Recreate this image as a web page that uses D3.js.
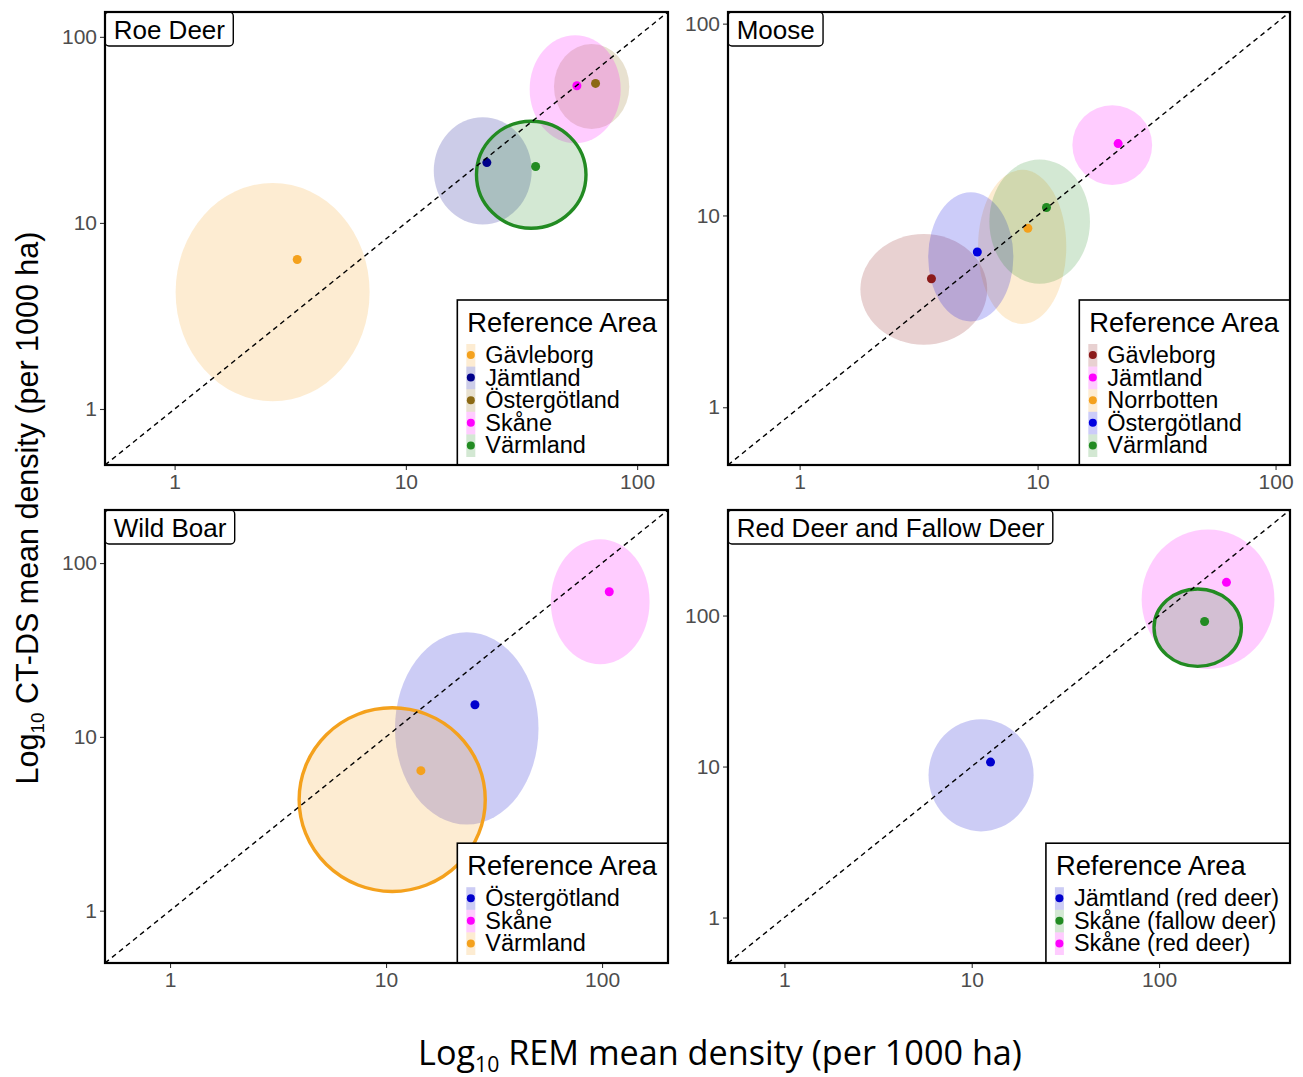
<!DOCTYPE html>
<html><head><meta charset="utf-8">
<script src="https://cdn.jsdelivr.net/npm/d3@7"></script>
<style>body{margin:0;background:#fff}</style>
</head><body>
<svg id="c" width="1303" height="1077" xmlns="http://www.w3.org/2000/svg"></svg>
<script>
// ---------------- DATA ----------------
const panelTitles = ["Roe Deer", "Moose", "Wild Boar", "Red Deer and Fallow Deer"];
const panelMax = [136, 115, 202, 500];      // upper end of both log axes
const tickValues = [1, 10, 100];
const legendTitle = "Reference Area";
const xTitleMain = "Log", xTitleSub = "10", xTitleRest = " REM mean density (per 1000 ha)";
const yTitleMain = "Log", yTitleSub = "10", yTitleRest = " CT-DS mean density (per 1000 ha)";

// Roe Deer
const roeAreas = ["Gävleborg", "Jämtland", "Östergötland", "Skåne", "Värmland"];
const roeRem = [3.39, 22.4, 66.1, 54.9, 36.4];
const roeCtds = [6.36, 21.1, 56.2, 54.6, 20.1];
const roeRemRange = [[1.01, 6.97], [13.2, 35.0], [43.7, 92.5], [34.3, 84.9], [20.2, 60.1]];
const roeCtdsRange = [[1.10, 16.4], [9.8, 37.0], [32.0, 91.4], [26.8, 102], [9.36, 35.2]];
const roeOutlined = ["Värmland"];

// Moose
const mooseAreas = ["Gävleborg", "Jämtland", "Norrbotten", "Östergötland", "Värmland"];
const mooseRem = [3.58, 21.8, 9.10, 5.58, 10.9];
const mooseCtds = [4.68, 23.7, 8.57, 6.45, 11.0];
const mooseRemRange = [[1.80, 6.14], [14.0, 30.3], [5.62, 13.2], [3.47, 7.91], [6.27, 16.6]];
const mooseCtdsRange = [[2.12, 8.0], [14.4, 37.6], [2.72, 17.3], [2.80, 13.2], [4.41, 19.6]];
const mooseOutlined = [];

// Wild Boar
const boarAreas = ["Östergötland", "Skåne", "Värmland"];
const boarRem = [25.8, 108, 14.5];
const boarCtds = [15.3, 68.4, 6.39];
const boarRemRange = [[11.0, 50.8], [57.9, 166], [3.96, 28.8]];
const boarCtdsRange = [[3.13, 40.0], [26.2, 137], [1.29, 14.7]];
const boarOutlined = ["Värmland"];

// Red Deer and Fallow Deer
const redAreas = ["Jämtland (red deer)", "Skåne (fallow deer)", "Skåne (red deer)"];
const redRem = [12.6, 175, 229];
const redCtds = [10.7, 91.3, 166];
const redRemRange = [[5.88, 21.4], [94.0, 275], [80.7, 413]];
const redCtdsRange = [[3.72, 20.6], [46.1, 150], [44.3, 372]];
const redOutlined = ["Skåne (fallow deer)"];

// ---------------- STYLE ----------------
const roeColors = ["#F4A11D", "#00008B", "#8B6914", "#FF00FF", "#228B22"];
const mooseColors = ["#8B1A1A", "#FF00FF", "#F4A11D", "#0000E0", "#228B22"];
const boarColors = ["#0000CD", "#FF00FF", "#F4A11D"];
const redColors = ["#0000CD", "#228B22", "#FF00FF"];
const FONT = "'Liberation Sans', Arial, Helvetica, sans-serif";

const boxes = [
  {l: 105, t: 12, r: 668, b: 465},
  {l: 728, t: 12, r: 1290, b: 465},
  {l: 105, t: 510, r: 668, b: 963},
  {l: 728, t: 510, r: 1290, b: 963}
];

const svg = d3.select("#c");
svg.append("rect").attr("width", 1303).attr("height", 1077).attr("fill", "#fff");

function drawPanel(i, areas, rem, ctds, remR, ctdsR, colors, outlined) {
  const box = boxes[i];
  const x = d3.scaleLog().domain([0.5, panelMax[i]]).range([box.l, box.r]);
  const y = d3.scaleLog().domain([0.5, panelMax[i]]).range([box.b, box.t]);
  const g = svg.append("g");
  const clipId = "clip" + i;
  g.append("clipPath").attr("id", clipId).append("rect")
    .attr("x", box.l).attr("y", box.t).attr("width", box.r - box.l).attr("height", box.b - box.t);
  const plot = g.append("g").attr("clip-path", `url(#${clipId})`);

  const rows = areas.map((a, k) => ({a, rem: rem[k], ctds: ctds[k], rr: remR[k], cr: ctdsR[k], col: colors[k], out: outlined.includes(a)}));
  const drawOrder = rows.filter(d => !d.out).concat(rows.filter(d => d.out));

  // ellipses (outlined ones on top)
  plot.selectAll("ellipse").data(drawOrder).join("ellipse")
    .attr("cx", d => (x(d.rr[0]) + x(d.rr[1])) / 2)
    .attr("cy", d => (y(d.cr[0]) + y(d.cr[1])) / 2)
    .attr("rx", d => Math.abs(x(d.rr[1]) - x(d.rr[0])) / 2)
    .attr("ry", d => Math.abs(y(d.cr[1]) - y(d.cr[0])) / 2)
    .attr("fill", d => d.col).attr("fill-opacity", 0.2)
    .attr("stroke", d => d.out ? d.col : "none")
    .attr("stroke-width", 3.4);

  // points
  plot.selectAll("circle.pt").data(rows).join("circle").attr("class", "pt")
    .attr("cx", d => x(d.rem)).attr("cy", d => y(d.ctds)).attr("r", 4.5)
    .attr("fill", d => d.col);

  // 1:1 line
  plot.append("line")
    .attr("x1", x(0.5)).attr("y1", y(0.5))
    .attr("x2", x(panelMax[i])).attr("y2", y(panelMax[i]))
    .attr("stroke", "#000").attr("stroke-width", 1.4).attr("stroke-dasharray", "5,4");

  // axes
  const ax = g.append("g").attr("transform", `translate(0,${box.b})`)
    .call(d3.axisBottom(x).tickValues(tickValues).tickFormat(d3.format("d")).tickSize(5).tickPadding(4));
  const ay = g.append("g").attr("transform", `translate(${box.l},0)`)
    .call(d3.axisLeft(y).tickValues(tickValues).tickFormat(d3.format("d")).tickSize(5).tickPadding(3));
  [ax, ay].forEach(a => {
    a.select(".domain").remove();
    a.selectAll("line").attr("stroke", "#333").attr("stroke-width", 1.1);
    a.selectAll("text").attr("fill", "#4D4D4D").attr("font-size", 21).attr("font-family", FONT);
  });

  // panel label
  const lab = g.append("g");
  const lt = lab.append("text").attr("x", box.l + 8.7).attr("y", box.t + 26.5)
    .attr("font-size", 26).attr("font-family", FONT).attr("fill", "#000").text(panelTitles[i]);
  const lw = lt.node().getComputedTextLength();
  lab.insert("rect", "text").attr("x", box.l).attr("y", box.t)
    .attr("width", lw + 17).attr("height", 34).attr("rx", 4)
    .attr("fill", "#fff").attr("stroke", "#000").attr("stroke-width", 1.4);

  // legend
  const lg = g.append("g");
  const step = 22.6, titleFs = 27.3, itemFs = 23.5;
  const h = 52 + rows.length * step;
  const top = box.b - h;
  const tt = lg.append("text").attr("y", top + 32).attr("font-size", titleFs).attr("font-family", FONT).text(legendTitle);
  const items = lg.selectAll("text.it").data(rows).join("text").attr("class", "it")
    .attr("y", (d, k) => top + 63 + k * step).attr("font-size", itemFs).attr("font-family", FONT).text(d => d.a);
  const tw = tt.node().getComputedTextLength();
  let iw = 0; items.each(function () { iw = Math.max(iw, this.getComputedTextLength()); });
  const w = Math.max(tw + 10, iw + 28) + 11;
  const left = box.r - w;
  tt.attr("x", left + 10);
  items.attr("x", left + 28);
  lg.insert("rect", "text").attr("x", left).attr("y", top).attr("width", w).attr("height", h)
    .attr("fill", "#fff").attr("stroke", "#000").attr("stroke-width", 1.6);
  const keys = lg.selectAll("g.key").data(rows).join("g").attr("class", "key");
  keys.append("rect").attr("x", left + 9).attr("y", (d, k) => top + 44 + k * step)
    .attr("width", 9).attr("height", step).attr("fill", d => d.col).attr("fill-opacity", 0.2);
  keys.append("circle").attr("cx", left + 13.5).attr("cy", (d, k) => top + 55 + k * step)
    .attr("r", 4).attr("fill", d => d.col);

  // border on top
  g.append("rect").attr("x", box.l).attr("y", box.t)
    .attr("width", box.r - box.l).attr("height", box.b - box.t)
    .attr("fill", "none").attr("stroke", "#000").attr("stroke-width", 2.2);
}

drawPanel(0, roeAreas, roeRem, roeCtds, roeRemRange, roeCtdsRange, roeColors, roeOutlined);
drawPanel(1, mooseAreas, mooseRem, mooseCtds, mooseRemRange, mooseCtdsRange, mooseColors, mooseOutlined);
drawPanel(2, boarAreas, boarRem, boarCtds, boarRemRange, boarCtdsRange, boarColors, boarOutlined);
drawPanel(3, redAreas, redRem, redCtds, redRemRange, redCtdsRange, redColors, redOutlined);

// axis titles with subscripts, fitted to the reference width
function subTitle(parent, fs, family, main, sub, rest) {
  const t = parent.append("text").attr("font-size", fs).attr("font-family", family)
    .attr("text-anchor", "middle").attr("fill", "#000");
  t.append("tspan").text(main);
  t.append("tspan").attr("font-size", fs * 0.62).attr("dy", fs * 0.2).text(sub);
  t.append("tspan").attr("dy", -fs * 0.2).text(rest);
  return t;
}
function fitted(parent, fs0, family, main, sub, rest, width) {
  const probe = subTitle(parent, fs0, family, main, sub, rest);
  const w = probe.node().getComputedTextLength();
  probe.remove();
  return subTitle(parent, fs0 * width / w, family, main, sub, rest);
}
fitted(svg.append("g").attr("transform", "translate(720,1065)"), 28, "'Open Sans', 'Noto Sans', sans-serif",
  xTitleMain, xTitleSub, xTitleRest, 604);
fitted(svg.append("g").attr("transform", "translate(38,508) rotate(-90)"), 30, FONT,
  yTitleMain, yTitleSub, yTitleRest, 553);
</script>
</body></html>
